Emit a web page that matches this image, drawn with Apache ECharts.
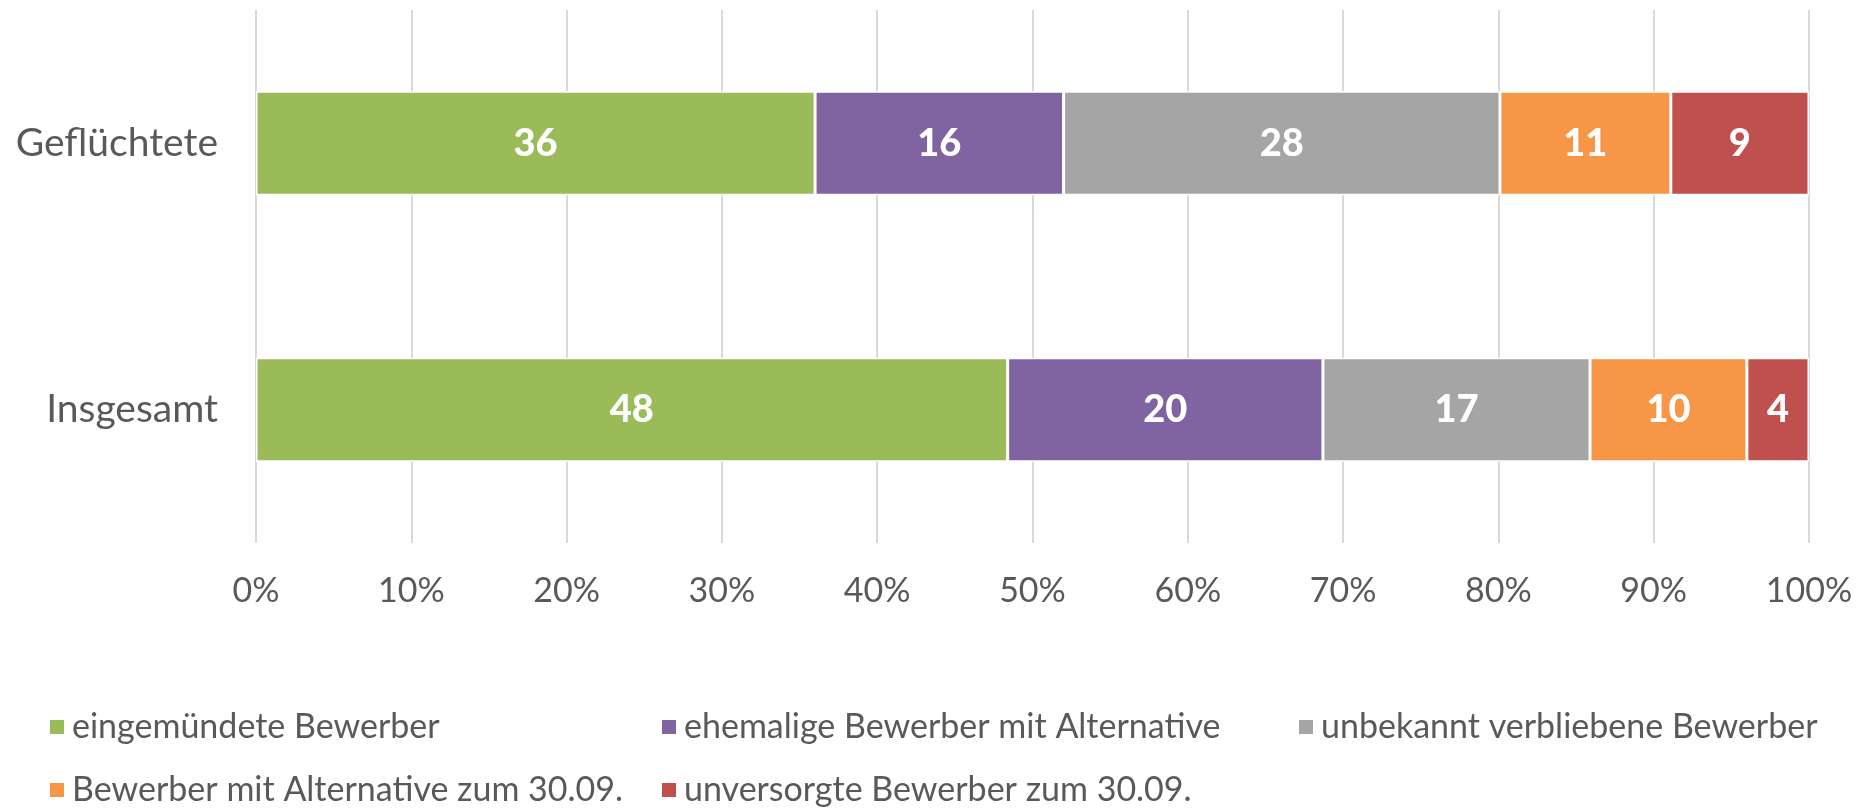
<!DOCTYPE html>
<html>
<head>
<meta charset="utf-8">
<script src="https://cdn.jsdelivr.net/npm/echarts@6/dist/echarts.min.js"></script>
<style>
  html, body { margin: 0; padding: 0; background: #fff; }
  #chart { width: 1858px; height: 811px; }
</style>
</head>
<body>
<div id="chart"></div>
<script>
// Kategorien (von oben nach unten)
var categories = ['Geflüchtete', 'Insgesamt'];

// Anteile in Prozent je Gruppe
var eingemuendet   = [36.0, 48.4];
var ehemalig       = [16.0, 20.3];
var unbekannt      = [28.1, 17.2];
var mitAlternative = [11.0, 10.1];
var unversorgt     = [8.9, 4.0];

var seriesNames = [
    'eingemündete Bewerber',
    'ehemalige Bewerber mit Alternative',
    'unbekannt verbliebene Bewerber',
    'Bewerber mit Alternative zum 30.09.',
    'unversorgte Bewerber zum 30.09.'
];
var seriesData = [eingemuendet, ehemalig, unbekannt, mitAlternative, unversorgt];
var colors = ['#9BBB59', '#8064A2', '#A5A5A5', '#F79646', '#C0504D'];

var FONT = 'Lato';

var myChart = echarts.init(document.getElementById('chart'));

// Legende: je Eintrag eine eigene Komponente, damit die Spalten wie im Original stehen
var legendPos = [
    {left: 43, top: 705},
    {left: 655, top: 705},
    {left: 1292, top: 705},
    {left: 43, top: 768},
    {left: 655, top: 768}
];
var legends = seriesNames.map(function (name, i) {
    return {
        data: [name],
        left: legendPos[i].left,
        top: legendPos[i].top,
        itemWidth: 16,
        itemHeight: 16,
        itemGap: 0,
        icon: 'rect',
        selectedMode: false,
        textStyle: {fontFamily: FONT, fontSize: 34, color: '#595959', padding: [0, 0, 0, 2]}
    };
});

var series = seriesNames.map(function (name, i) {
    return {
        name: name,
        type: 'bar',
        stack: 'gesamt',
        barWidth: 104,
        itemStyle: {color: colors[i], borderColor: '#ffffff', borderWidth: 1.5},
        label: {
            show: true,
            position: 'inside',
            color: '#ffffff',
            fontFamily: FONT,
            fontWeight: 900,
            fontSize: 38,
            formatter: function (p) { return Math.round(p.value); }
        },
        data: seriesData[i]
    };
});

var option = {
    animation: false,
    color: colors,
    legend: legends,
    grid: {left: 256, right: 49, top: 10, bottom: 268},
    xAxis: {
        type: 'value',
        min: 0,
        max: 100,
        interval: 10,
        axisLine: {show: false},
        axisTick: {show: false},
        axisLabel: {
            formatter: '{value}%',
            fontFamily: FONT,
            fontSize: 34,
            color: '#595959',
            margin: 31
        },
        splitLine: {show: true, lineStyle: {color: '#d9d9d9', width: 2}}
    },
    yAxis: {
        type: 'category',
        inverse: true,
        data: categories,
        axisLine: {show: false},
        axisTick: {show: false},
        axisLabel: {
            fontFamily: FONT,
            fontSize: 39,
            color: '#595959',
            margin: 38
        }
    },
    series: series
};
myChart.setOption(option);
</script>
</body>
</html>
